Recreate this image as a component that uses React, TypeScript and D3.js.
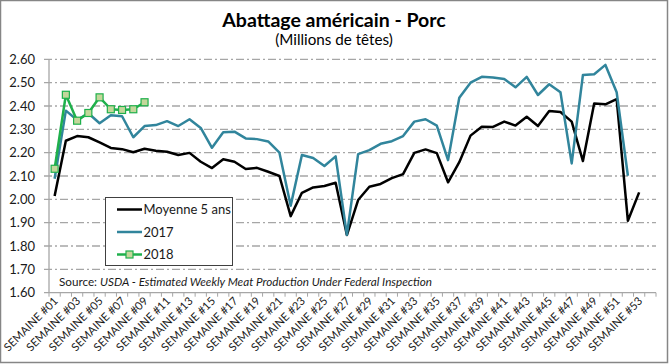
import { useEffect, useRef } from "react";
import * as d3 from "d3";

const weeks = d3.range(1, 55).map((w) => `SEMAINE #${String(w).padStart(2, "0")}`);

const moyenne5 = [
  2.014, 2.251, 2.271, 2.266, 2.244, 2.22, 2.215, 2.202, 2.217, 2.208,
  2.204, 2.19, 2.199, 2.161, 2.134, 2.172, 2.161, 2.13, 2.135, 2.118,
  2.1, 1.928, 2.028, 2.051, 2.057, 2.071, 1.847, 1.997, 2.054, 2.066,
  2.091, 2.108, 2.199, 2.214, 2.198, 2.073, 2.159, 2.273, 2.311, 2.31,
  2.333, 2.316, 2.354, 2.314, 2.378, 2.374, 2.333, 2.164, 2.411, 2.407,
  2.429, 1.908, 2.03,
];

const s2017 = [
  2.088, 2.38, 2.34, 2.369, 2.326, 2.36, 2.356, 2.266, 2.314, 2.318,
  2.335, 2.314, 2.343, 2.306, 2.221, 2.287, 2.29, 2.261, 2.258, 2.248,
  2.2, 1.973, 2.19, 2.177, 2.143, 2.184, 1.848, 2.194, 2.211, 2.238,
  2.249, 2.271, 2.333, 2.343, 2.316, 2.168, 2.435, 2.5, 2.525, 2.522,
  2.516, 2.48, 2.525, 2.447, 2.493, 2.459, 2.154, 2.533, 2.536, 2.576,
  2.459, 2.101,
];

const s2018 = [2.131, 2.448, 2.337, 2.37, 2.437, 2.386, 2.383, 2.386, 2.416];

const yTicks = [1.6, 1.7, 1.8, 1.9, 2.0, 2.1, 2.2, 2.3, 2.4, 2.5, 2.6];

const seriesNames = ["Moyenne 5 ans", "2017", "2018"];

const FONT = "Lato, 'Open Sans', sans-serif";

export default function App() {
  const ref = useRef<SVGSVGElement | null>(null);

  useEffect(() => {
    const width = 669;
    const height = 364;
    const svg = d3.select(ref.current);
    svg.selectAll("*").remove();
    svg.attr("width", width).attr("height", height).style("font-family", FONT);

    svg
      .append("rect")
      .attr("x", 0.5)
      .attr("y", 0.5)
      .attr("width", width - 2)
      .attr("height", height - 2)
      .attr("fill", "#fff")
      .attr("stroke", "#868686")
      .attr("stroke-width", 1.5);

    const x = d3.scaleBand<string>().domain(weeks).range([49, 656]);
    const y = d3.scaleLinear().domain([1.6, 2.6]).range([292.7, 59.3]);
    const cx = (i: number) => (x(weeks[i]) as number) + x.bandwidth() / 2;

    // gridlines
    svg
      .append("g")
      .selectAll("line")
      .data(yTicks.slice(1))
      .enter()
      .append("line")
      .attr("x1", 44)
      .attr("x2", 656)
      .attr("y1", (d) => y(d))
      .attr("y2", (d) => y(d))
      .attr("stroke", "#a6a6a6")
      .attr("stroke-width", 1.3)
      .attr("stroke-dasharray", "8,3,2,3");

    // y axis
    svg
      .append("line")
      .attr("x1", 49)
      .attr("x2", 49)
      .attr("y1", y(2.6))
      .attr("y2", y(1.6))
      .attr("stroke", "#a6a6a6")
      .attr("stroke-width", 1.3);

    svg
      .append("g")
      .selectAll("text")
      .data(yTicks)
      .enter()
      .append("text")
      .attr("x", 35)
      .attr("y", (d) => y(d))
      .attr("dy", "0.35em")
      .attr("text-anchor", "end")
      .attr("font-size", 13)
      .attr("fill", "#1a1a1a")
      .text((d) => d3.format(".2f")(d));

    // x axis
    svg
      .append("line")
      .attr("x1", 44)
      .attr("x2", 656)
      .attr("y1", y(1.6))
      .attr("y2", y(1.6))
      .attr("stroke", "#a6a6a6")
      .attr("stroke-width", 1.3);

    svg
      .append("g")
      .selectAll("line")
      .data(weeks.concat(["end"]))
      .enter()
      .append("line")
      .attr("x1", (d, i) => (i < weeks.length ? (x(d) as number) : 656))
      .attr("x2", (d, i) => (i < weeks.length ? (x(d) as number) : 656))
      .attr("y1", y(1.6))
      .attr("y2", y(1.6) + 4)
      .attr("stroke", "#a6a6a6")
      .attr("stroke-width", 1);

    svg
      .append("g")
      .selectAll("text")
      .data(weeks.filter((_, i) => i % 2 === 0 && i < 53))
      .enter()
      .append("text")
      .attr(
        "transform",
        (d) => `translate(${(x(d) as number) + x.bandwidth() / 2 + 4},${y(1.6) + 9}) rotate(-45)`
      )
      .attr("text-anchor", "end")
      .attr("font-size", 11.2)
      .attr("fill", "#1a1a1a")
      .text((d) => d);

    // source
    const src = svg
      .append("text")
      .attr("x", 59)
      .attr("y", 286)
      .attr("font-size", 11.7)
      .attr("fill", "#1a1a1a");
    src.append("tspan").text("Source: ");
    src
      .append("tspan")
      .attr("font-style", "italic")
      .text("USDA - Estimated Weekly Meat Production Under Federal Inspection");

    // lines
    const line = d3
      .line<number>()
      .x((_, i) => cx(i))
      .y((d) => y(d));

    svg
      .append("path")
      .datum(moyenne5)
      .attr("d", line)
      .attr("fill", "none")
      .attr("stroke", "#000")
      .attr("stroke-width", 2.5)
      .attr("stroke-linejoin", "round");

    svg
      .append("path")
      .datum(s2017)
      .attr("d", line)
      .attr("fill", "none")
      .attr("stroke", "#31859c")
      .attr("stroke-width", 2.5)
      .attr("stroke-linejoin", "round");

    svg
      .append("path")
      .datum(s2018)
      .attr("d", line)
      .attr("fill", "none")
      .attr("stroke", "#1fb04c")
      .attr("stroke-width", 2.5)
      .attr("stroke-linejoin", "round");

    svg
      .append("g")
      .selectAll("rect")
      .data(s2018)
      .enter()
      .append("rect")
      .attr("x", (_, i) => cx(i) - 3.5)
      .attr("y", (d) => y(d) - 3.5)
      .attr("width", 7)
      .attr("height", 7)
      .attr("fill", "#c4d79b")
      .attr("stroke", "#1fb04c")
      .attr("stroke-width", 1.2);

    // title
    svg
      .append("text")
      .attr("x", 334)
      .attr("y", 27)
      .attr("text-anchor", "middle")
      .attr("font-size", 19.5)
      .attr("font-weight", "bold")
      .attr("fill", "#000")
      .text("Abattage américain - Porc");

    svg
      .append("text")
      .attr("x", 334)
      .attr("y", 45)
      .attr("text-anchor", "middle")
      .attr("font-size", 15.2)
      .attr("fill", "#000")
      .text("(Millions de têtes)");

    // legend
    const lg = svg.append("g");
    lg.append("rect")
      .attr("x", 105.5)
      .attr("y", 197.5)
      .attr("width", 127)
      .attr("height", 68)
      .attr("fill", "#fff")
      .attr("stroke", "#404040")
      .attr("stroke-width", 1);

    const colors = ["#000", "#31859c", "#1fb04c"];
    const ly = d3.scalePoint<string>().domain(seriesNames).range([209.5, 254.5]);

    seriesNames.forEach((name, i) => {
      const yy = ly(name) as number;
      lg.append("line")
        .attr("x1", 117)
        .attr("x2", 142)
        .attr("y1", yy)
        .attr("y2", yy)
        .attr("stroke", colors[i])
        .attr("stroke-width", 2.5);
      if (i === 2) {
        lg.append("rect")
          .attr("x", 126)
          .attr("y", yy - 3.5)
          .attr("width", 7)
          .attr("height", 7)
          .attr("fill", "#c4d79b")
          .attr("stroke", "#1fb04c")
          .attr("stroke-width", 1.2);
      }
      lg.append("text")
        .attr("x", 143.5)
        .attr("y", yy)
        .attr("dy", "0.35em")
        .attr("font-size", 13)
        .attr("fill", "#1a1a1a")
        .text(name);
    });
  }, []);

  return (
    <div style={{ position: "absolute", left: 0, top: 0 }}>
      <svg ref={ref}></svg>
    </div>
  );
}
